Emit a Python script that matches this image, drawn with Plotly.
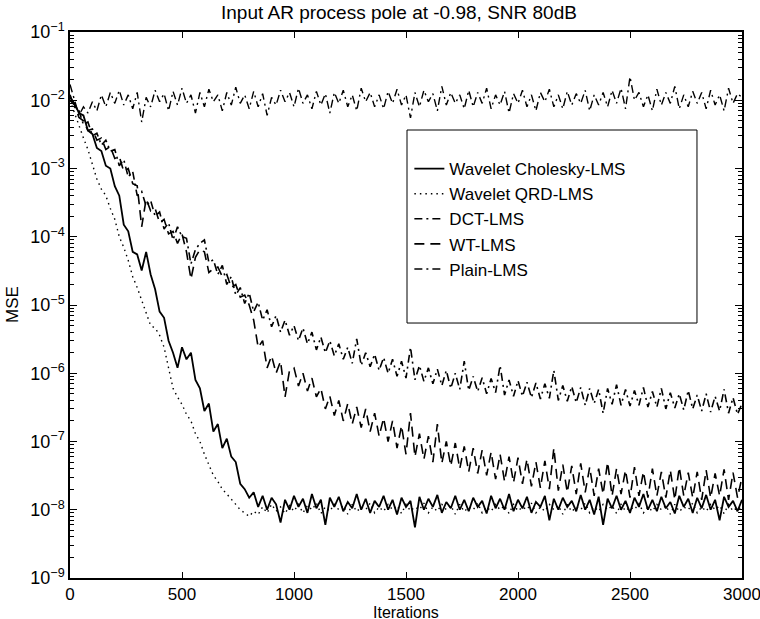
import plotly.graph_objects as go

# iteration grid (every 20 iterations), MSE values
iters = list(range(0, 3001, 20))

cholesky = [
    1.1e-2, 9.0e-3, 6.5e-3, 6.0e-3, 3.6e-3, 3.2e-3, 2.0e-3, 1.8e-3, 1.1e-3, 1.0e-3,
    5.5e-4, 4.0e-4, 1.5e-4, 1.2e-4, 6.0e-5, 5.5e-5, 3.2e-5, 6.0e-5, 2.8e-5, 1.7e-5,
    8.0e-6, 6.5e-6, 3.0e-6, 2.0e-6, 1.2e-6, 2.4e-6, 1.6e-6, 2.0e-6, 8.0e-7, 6.0e-7,
    2.8e-7, 3.6e-7, 1.4e-7, 1.8e-7, 8.0e-8, 1.1e-7, 6.0e-8, 5.0e-8, 2.4e-8, 2.0e-8,
    1.5e-8, 1.8e-8, 1.1e-8, 1.6e-8, 1.0e-8, 1.5e-8, 1.2e-8, 6.5e-9, 1.4e-8, 1.0e-8,
    1.6e-8, 1.1e-8, 1.45e-8, 9.0e-9, 1.7e-8, 1.05e-8, 1.4e-8, 6.0e-9, 1.5e-8, 1.1e-8,
    1.55e-8, 9.5e-9, 1.3e-8, 1.05e-8, 1.7e-8, 1.0e-8, 1.45e-8, 9.0e-9, 1.35e-8, 1.1e-8,
    1.6e-8, 1.0e-8, 1.4e-8, 8.5e-9, 1.5e-8, 1.1e-8, 1.35e-8, 5.5e-9, 1.55e-8, 1.0e-8,
    1.45e-8, 1.1e-8, 1.65e-8, 9.0e-9, 1.3e-8, 1.05e-8, 1.6e-8, 1.0e-8, 1.4e-8, 9.5e-9,
    1.5e-8, 1.1e-8, 1.35e-8, 8.8e-9, 1.6e-8, 1.05e-8, 1.45e-8, 1.0e-8, 1.7e-8, 9.5e-9,
    1.4e-8, 1.05e-8, 1.55e-8, 9.0e-9, 1.3e-8, 1.1e-8, 1.6e-8, 7.0e-9, 1.45e-8, 1.0e-8,
    1.5e-8, 1.1e-8, 1.35e-8, 9.5e-9, 1.65e-8, 1.0e-8, 1.4e-8, 8.5e-9, 1.55e-8, 6.0e-9,
    1.45e-8, 1.05e-8, 1.6e-8, 1.0e-8, 1.35e-8, 9.0e-9, 1.5e-8, 1.1e-8, 1.7e-8, 1.0e-8,
    1.4e-8, 9.5e-9, 1.55e-8, 1.05e-8, 1.3e-8, 8.8e-9, 1.6e-8, 1.1e-8, 1.45e-8, 9.0e-9,
    1.5e-8, 1.05e-8, 1.65e-8, 1.0e-8, 1.4e-8, 7.0e-9, 1.55e-8, 1.1e-8, 1.35e-8, 9.5e-9,
    1.4e-8,
]

qrd = [
    1.0e-2, 6.5e-3, 4.0e-3, 2.8e-3, 1.9e-3, 1.2e-3, 7.0e-4, 5.0e-4, 4.0e-4, 2.6e-4,
    1.8e-4, 1.0e-4, 7.0e-5, 4.5e-5, 2.6e-5, 1.8e-5, 1.2e-5, 7.5e-6, 5.0e-6, 4.6e-6,
    3.6e-6, 2.4e-6, 1.2e-6, 6.0e-7, 4.5e-7, 3.5e-7, 2.5e-7, 2.0e-7, 1.3e-7, 1.0e-7,
    6.5e-8, 4.5e-8, 3.2e-8, 2.6e-8, 2.0e-8, 1.7e-8, 1.4e-8, 1.2e-8, 1.0e-8, 9.0e-9,
    8.0e-9, 9.5e-9, 8.5e-9, 1.1e-8, 9.0e-9, 1.2e-8, 9.5e-9, 1.1e-8, 8.8e-9, 1.15e-8,
    9.5e-9, 1.2e-8, 9.0e-9, 1.15e-8, 1.0e-8, 1.25e-8, 8.8e-9, 1.1e-8, 9.5e-9, 1.2e-8,
    1.0e-8, 1.15e-8, 8.6e-9, 1.2e-8, 9.4e-9, 1.1e-8, 1.0e-8, 1.25e-8, 9.0e-9, 1.1e-8,
    9.5e-9, 1.2e-8, 1.0e-8, 1.15e-8, 8.8e-9, 1.2e-8, 9.6e-9, 1.1e-8, 1.0e-8, 1.25e-8,
    9.0e-9, 1.1e-8, 9.5e-9, 1.2e-8, 1.0e-8, 1.15e-8, 8.6e-9, 1.2e-8, 9.4e-9, 1.1e-8,
    1.0e-8, 1.25e-8, 9.0e-9, 1.1e-8, 9.5e-9, 1.2e-8, 1.0e-8, 1.15e-8, 8.8e-9, 1.2e-8,
    9.6e-9, 1.1e-8, 1.0e-8, 1.25e-8, 9.0e-9, 1.1e-8, 9.5e-9, 1.2e-8, 1.0e-8, 1.15e-8,
    8.6e-9, 1.2e-8, 9.4e-9, 1.1e-8, 1.0e-8, 1.25e-8, 9.0e-9, 1.1e-8, 9.5e-9, 1.2e-8,
    1.0e-8, 1.15e-8, 8.8e-9, 1.2e-8, 9.6e-9, 1.1e-8, 1.0e-8, 1.25e-8, 9.0e-9, 1.1e-8,
    9.5e-9, 1.2e-8, 1.0e-8, 1.15e-8, 8.6e-9, 1.2e-8, 9.4e-9, 1.1e-8, 1.0e-8, 1.25e-8,
    9.0e-9, 1.1e-8, 9.5e-9, 1.2e-8, 1.0e-8, 1.15e-8, 8.8e-9, 1.2e-8, 9.6e-9, 1.1e-8,
    1.0e-8,
]

dct = [
    1.2e-2, 8.0e-3, 7.0e-3, 4.4e-3, 4.8e-3, 3.0e-3, 3.3e-3, 2.2e-3, 2.6e-3, 1.8e-3,
    1.9e-3, 1.1e-3, 1.35e-3, 7.5e-4, 9.0e-4, 4.0e-4, 4.6e-4, 2.8e-4, 3.4e-4, 2.0e-4,
    2.3e-4, 1.3e-4, 1.6e-4, 9.0e-5, 1.4e-4, 1.0e-4, 9.5e-5, 4.0e-5, 6.5e-5, 8.0e-5,
    9.0e-5, 4.2e-5, 4.6e-5, 2.8e-5, 3.8e-5, 2.0e-5, 2.6e-5, 1.4e-5, 1.8e-5, 1.05e-5,
    1.5e-5, 8.0e-6, 1.1e-5, 6.0e-6, 8.5e-6, 4.8e-6, 7.0e-6, 4.0e-6, 6.0e-6, 3.6e-6,
    5.0e-6, 3.0e-6, 4.6e-6, 2.7e-6, 4.0e-6, 2.2e-6, 3.4e-6, 2.0e-6, 3.0e-6, 1.8e-6,
    2.7e-6, 1.6e-6, 2.4e-6, 1.4e-6, 3.2e-6, 1.3e-6, 2.0e-6, 1.25e-6, 1.9e-6, 1.1e-6,
    1.7e-6, 1.0e-6, 1.6e-6, 9.0e-7, 1.5e-6, 8.5e-7, 2.4e-6, 8.0e-7, 1.3e-6, 7.6e-7,
    1.2e-6, 7.0e-7, 1.15e-6, 6.6e-7, 1.1e-6, 6.0e-7, 1.0e-6, 5.8e-7, 1.5e-6, 5.6e-7,
    9.0e-7, 5.4e-7, 8.6e-7, 5.0e-7, 8.4e-7, 5.2e-7, 1.3e-6, 4.8e-7, 8.0e-7, 4.6e-7,
    7.8e-7, 4.6e-7, 7.4e-7, 4.4e-7, 7.2e-7, 4.2e-7, 7.0e-7, 4.3e-7, 1.1e-6, 4.0e-7,
    6.6e-7, 3.9e-7, 6.4e-7, 3.7e-7, 6.2e-7, 3.4e-7, 6.0e-7, 3.6e-7, 5.8e-7, 2.6e-7,
    6.0e-7, 3.5e-7, 6.8e-7, 3.4e-7, 5.8e-7, 3.3e-7, 5.6e-7, 3.4e-7, 6.2e-7, 3.2e-7,
    5.4e-7, 3.2e-7, 6.0e-7, 3.0e-7, 5.2e-7, 3.1e-7, 5.0e-7, 2.9e-7, 5.6e-7, 3.0e-7,
    4.8e-7, 2.8e-7, 5.0e-7, 2.7e-7, 4.6e-7, 2.8e-7, 5.8e-7, 2.6e-7, 4.4e-7, 2.5e-7,
    3.6e-7,
]

wt = [
    1.0e-2, 8.5e-3, 5.6e-3, 5.0e-3, 3.6e-3, 3.8e-3, 2.6e-3, 2.8e-3, 1.9e-3, 2.1e-3,
    1.4e-3, 1.5e-3, 9.0e-4, 1.0e-3, 6.0e-4, 5.6e-4, 1.4e-4, 3.6e-4, 2.4e-4, 2.6e-4,
    1.6e-4, 1.8e-4, 1.1e-4, 1.2e-4, 8.0e-5, 1.1e-4, 6.0e-5, 2.4e-5, 5.0e-5, 6.5e-5,
    6.0e-5, 3.0e-5, 3.4e-5, 3.6e-5, 2.6e-5, 2.8e-5, 1.8e-5, 2.0e-5, 1.3e-5, 1.4e-5,
    1.0e-5, 6.0e-6, 2.4e-6, 3.0e-6, 1.2e-6, 1.8e-6, 1.0e-6, 1.5e-6, 4.5e-7, 1.1e-6,
    1.2e-6, 6.5e-7, 1.0e-6, 5.5e-7, 8.5e-7, 4.5e-7, 6.0e-7, 3.0e-7, 4.6e-7, 2.4e-7,
    4.0e-7, 2.0e-7, 3.6e-7, 1.8e-7, 3.2e-7, 1.6e-7, 3.0e-7, 1.4e-7, 2.6e-7, 1.2e-7,
    2.2e-7, 1.0e-7, 2.0e-7, 8.0e-8, 1.7e-7, 6.5e-8, 2.6e-7, 6.0e-8, 1.3e-7, 5.5e-8,
    1.2e-7, 5.0e-8, 1.8e-7, 4.8e-8, 1.0e-7, 4.4e-8, 9.5e-8, 4.0e-8, 8.5e-8, 3.6e-8,
    8.0e-8, 3.4e-8, 7.5e-8, 3.2e-8, 7.0e-8, 2.8e-8, 6.5e-8, 2.6e-8, 6.0e-8, 2.5e-8,
    5.8e-8, 2.4e-8, 5.5e-8, 2.2e-8, 5.0e-8, 2.1e-8, 5.2e-8, 2.0e-8, 8.0e-8, 1.9e-8,
    4.6e-8, 1.8e-8, 4.4e-8, 1.7e-8, 4.8e-8, 1.8e-8, 4.2e-8, 1.6e-8, 4.0e-8, 1.7e-8,
    5.0e-8, 1.6e-8, 4.0e-8, 1.7e-8, 3.8e-8, 1.5e-8, 4.2e-8, 1.6e-8, 3.6e-8, 1.5e-8,
    4.0e-8, 1.6e-8, 3.6e-8, 1.5e-8, 3.8e-8, 1.4e-8, 4.2e-8, 1.6e-8, 3.5e-8, 1.5e-8,
    3.6e-8, 1.4e-8, 3.8e-8, 1.5e-8, 3.4e-8, 1.6e-8, 3.9e-8, 1.4e-8, 3.5e-8, 1.5e-8,
    3.0e-8,
]

plain = [
    1.7e-2, 1.0e-2, 6.0e-3, 8.0e-3, 6.5e-3, 9.5e-3, 7.0e-3, 1.2e-2, 8.0e-3, 1.3e-2,
    9.0e-3, 1.4e-2, 8.5e-3, 1.2e-2, 7.5e-3, 1.3e-2, 4.8e-3, 1.1e-2, 8.0e-3, 1.4e-2,
    9.5e-3, 1.25e-2, 7.0e-3, 1.35e-2, 8.5e-3, 1.5e-2, 9.0e-3, 1.2e-2, 6.5e-3, 1.3e-2,
    8.0e-3, 1.45e-2, 9.5e-3, 1.2e-2, 7.0e-3, 1.3e-2, 8.5e-3, 1.55e-2, 9.0e-3, 1.2e-2,
    7.5e-3, 1.35e-2, 8.0e-3, 1.25e-2, 6.0e-3, 1.1e-2, 8.5e-3, 1.4e-2, 9.5e-3, 1.3e-2,
    8.0e-3, 1.5e-2, 9.0e-3, 1.2e-2, 7.5e-3, 1.35e-2, 8.5e-3, 1.25e-2, 6.5e-3, 1.3e-2,
    9.0e-3, 1.4e-2, 8.0e-3, 1.2e-2, 7.0e-3, 1.5e-2, 9.5e-3, 1.3e-2, 8.0e-3, 1.2e-2,
    7.5e-3, 1.35e-2, 9.0e-3, 1.45e-2, 8.5e-3, 1.2e-2, 5.5e-3, 1.3e-2, 8.0e-3, 1.4e-2,
    9.5e-3, 1.25e-2, 7.0e-3, 1.6e-2, 8.5e-3, 1.3e-2, 9.0e-3, 1.2e-2, 7.5e-3, 1.4e-2,
    8.0e-3, 1.3e-2, 9.0e-3, 1.5e-2, 7.5e-3, 1.2e-2, 8.5e-3, 1.35e-2, 6.5e-3, 1.25e-2,
    9.0e-3, 1.4e-2, 8.0e-3, 1.2e-2, 7.0e-3, 1.3e-2, 9.5e-3, 1.45e-2, 8.0e-3, 1.2e-2,
    7.5e-3, 1.35e-2, 8.5e-3, 1.25e-2, 9.0e-3, 1.4e-2, 7.0e-3, 1.2e-2, 8.5e-3, 1.3e-2,
    8.0e-3, 1.4e-2, 9.0e-3, 1.5e-2, 7.5e-3, 2.2e-2, 1.0e-2, 1.3e-2, 8.0e-3, 1.2e-2,
    7.0e-3, 1.45e-2, 8.5e-3, 1.3e-2, 9.0e-3, 1.6e-2, 7.5e-3, 1.2e-2, 8.0e-3, 1.35e-2,
    9.0e-3, 1.3e-2, 7.5e-3, 1.4e-2, 8.5e-3, 1.2e-2, 7.0e-3, 1.5e-2, 9.0e-3, 1.25e-2,
    1.1e-2,
]

names = ['Wavelet Cholesky-LMS', 'Wavelet QRD-LMS', 'DCT-LMS', 'WT-LMS', 'Plain-LMS']
series = [cholesky, qrd, dct, wt, plain]
dashes = ['solid', '1.5px,4px', '8px,4px,2px,4px', '10px,6px', '8px,4px,2px,4px']
widths = [1.8, 1.4, 1.6, 1.6, 1.4]

FONT = 'Liberation Sans, Arial, sans-serif'

fig = go.Figure()
for name, ys, dash, w in zip(names, series, dashes, widths):
    fig.add_trace(go.Scatter(x=iters, y=ys, mode='lines', name=name,
                             line=dict(color='black', width=w, dash=dash)))

ytick_vals = [10.0 ** e for e in range(-9, 0)]
ytick_text = ['10<sup>\u2212%d</sup>' % -e for e in range(-9, 0)]
minor_vals = [k * 10.0 ** e for e in range(-9, -1) for k in range(2, 10)]

fig.update_xaxes(range=[0, 3000], tickvals=[0, 500, 1000, 1500, 2000, 2500, 3000],
                 ticks='inside', ticklen=6, tickcolor='black', tickwidth=1,
                 showline=True, linecolor='black', linewidth=1.5, mirror='allticks',
                 showgrid=False, zeroline=False, automargin=False,
                 ticklabeloverflow='allow', ticklabelstandoff=0,
                 tickfont=dict(family=FONT, size=17, color='black'))
fig.update_yaxes(type='log', range=[-9, -1], tickvals=ytick_vals, ticktext=ytick_text,
                 ticks='inside', ticklen=7, tickcolor='black', tickwidth=1,
                 minor=dict(tickvals=minor_vals, ticks='inside', ticklen=4,
                            tickcolor='black', tickwidth=1, showgrid=False),
                 showline=True, linecolor='black', linewidth=1.5, mirror='allticks',
                 showgrid=False, zeroline=False, automargin=False,
                 tickfont=dict(family=FONT, size=18, color='black'))

# legend frame is taller than plotly's own box, so draw it as a shape
fig.add_shape(type='rect', xref='paper', yref='paper', x0=0.5015, x1=0.933,
              y0=0.467, y1=0.8205, fillcolor='white', layer='above',
              line=dict(color='black', width=1))

fig.add_annotation(text='Input AR process pole at -0.98, SNR 80dB', xref='paper',
                   yref='paper', x=0.49, y=1.0366, xanchor='center', yanchor='middle',
                   showarrow=False, font=dict(family=FONT, size=19, color='black'))
fig.add_annotation(text='Iterations', xref='paper', yref='paper', x=0.5, y=-0.0641,
                   xanchor='center', yanchor='middle', showarrow=False,
                   font=dict(family=FONT, size=16, color='black'))
fig.add_annotation(text='MSE', xref='paper', yref='paper', x=-0.0863, y=0.5,
                   xanchor='center', yanchor='middle', textangle=-90, showarrow=False,
                   font=dict(family=FONT, size=17, color='black'))

fig.update_layout(
    width=760, height=619,
    margin=dict(l=70, r=18, t=32, b=41),
    paper_bgcolor='white', plot_bgcolor='white',
    showlegend=True,
    legend=dict(x=0.505, y=0.782, xanchor='left', yanchor='top',
                bgcolor='rgba(0,0,0,0)', borderwidth=0,
                font=dict(family=FONT, size=17, color='black')),
)

# drop the page's default 8px body margin so the figure sits at the window corner
fig.write_html("out.html", config={'displayModeBar': False},
               post_script="document.body.style.margin = '0';")
